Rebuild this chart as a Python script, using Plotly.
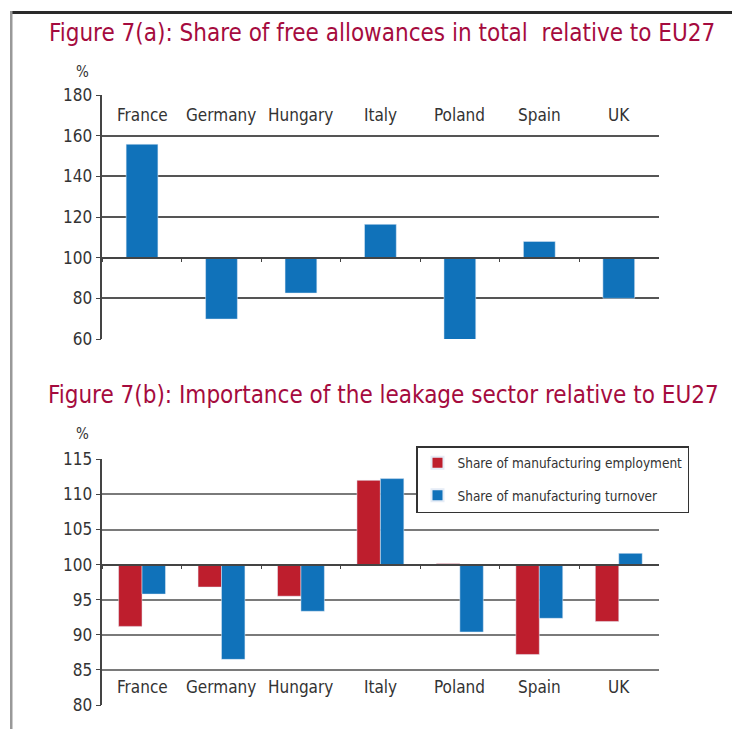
import plotly.graph_objects as go

countries = ["France", "Germany", "Hungary", "Italy", "Poland", "Spain", "UK"]
free_allowances = [155.8, 69.8, 82.6, 116.4, 59.7, 108.0, 80.0]
employment = [91.2, 96.8, 95.5, 112.0, 100.15, 87.2, 91.9]
turnover = [95.8, 86.5, 93.35, 112.25, 90.4, 92.35, 101.6]
baseline = 100

top_ticks = [60, 80, 100, 120, 140, 160, 180]
bot_ticks = [80, 85, 90, 95, 100, 105, 110, 115]

W, H = 740, 729
OFF = 8  # page body margin
FONT = "Liberation Sans Narrow, DejaVu Sans Condensed, Roboto, sans-serif"
TITLE_COLOR = "#A50B3E"
BLUE = "#1072BA"
RED = "#BE1E2D"
TXT = "#333333"

def py(px):
    return 1 - (px - OFF) / H

def pxx(px):
    return (px - OFF) / W

xdom = [pxx(102.3), pxx(658.5)]
top_dom = [py(339), py(95)]
bot_dom = [py(705), py(459.3)]
top_range = [60, 180]
bot_range = [80, 115]

top_pos = top_dom[0] + (baseline - top_range[0]) / (top_range[1] - top_range[0]) * (top_dom[1] - top_dom[0])
bot_pos = bot_dom[0] + (baseline - bot_range[0]) / (bot_range[1] - bot_range[0]) * (bot_dom[1] - bot_dom[0])

fig = go.Figure()

fig.add_trace(go.Bar(
    x=countries, y=[v - baseline for v in free_allowances], base=baseline,
    marker_color=BLUE, width=0.4, xaxis="x", yaxis="y", showlegend=False,
))
fig.add_trace(go.Bar(
    x=countries, y=[v - baseline for v in employment], base=baseline,
    marker_color=RED, name="Share of manufacturing employment",
    xaxis="x2", yaxis="y2", legendgroup="a",
))
fig.add_trace(go.Bar(
    x=countries, y=[v - baseline for v in turnover], base=baseline,
    marker_color=BLUE, name="Share of manufacturing turnover",
    xaxis="x2", yaxis="y2", legendgroup="b",
))

axis_common_y = dict(
    showline=True, linecolor="#444", linewidth=1.5,
    ticks="outside", ticklen=5, tickcolor="#444", tickwidth=1,
    showgrid=True, gridwidth=1.5,
    tickfont=dict(family=FONT, size=17, color=TXT),
    zeroline=False, fixedrange=True, automargin=False,
)
axis_common_x = dict(
    showline=True, linecolor="#444", linewidth=1.5,
    ticks="outside", ticklen=4, tickcolor="#444", tickson="boundaries",
    showticklabels=False, showgrid=False, anchor="free", domain=xdom,
    fixedrange=True, automargin=False,
)

fig.update_layout(
    width=W, height=H, autosize=False,
    margin=dict(l=0, r=0, t=0, b=0, pad=0),
    paper_bgcolor="white", plot_bgcolor="white",
    barmode="group", bargap=0.41, bargroupgap=0,
    font=dict(family=FONT, color=TXT),
    xaxis=dict(position=top_pos, **axis_common_x),
    yaxis=dict(domain=top_dom, range=top_range, tickvals=top_ticks, gridcolor="#555",
               anchor="x", **axis_common_y),
    xaxis2=dict(position=bot_pos, **axis_common_x),
    yaxis2=dict(domain=bot_dom, range=bot_range, tickvals=bot_ticks, gridcolor="#7a7a7a",
                anchor="x2", **axis_common_y),
    legend=dict(
        x=pxx(416), y=py(446), xanchor="left", yanchor="top",
        bordercolor="#333", borderwidth=1.5, bgcolor="white",
        font=dict(family=FONT, size=13.5, color=TXT),
        tracegroupgap=12, itemsizing="constant",
    ),
)

annotations = []
for c in countries:
    annotations.append(dict(x=c, y=170, xref="x", yref="y", text=c, showarrow=False,
                            font=dict(family=FONT, size=17, color=TXT)))
    annotations.append(dict(x=c, y=82.5, xref="x2", yref="y2", text=c, showarrow=False,
                            font=dict(family=FONT, size=17, color=TXT)))

annotations += [
    dict(x=pxx(47), y=py(33), xref="paper", yref="paper", xanchor="left", yanchor="middle",
         text="Figure 7(a): Share of free allowances in total  relative to EU27", showarrow=False,
         font=dict(family=FONT, size=24, color=TITLE_COLOR)),
    dict(x=pxx(46), y=py(395), xref="paper", yref="paper", xanchor="left", yanchor="middle",
         text="Figure 7(b): Importance of the leakage sector relative to EU27", showarrow=False,
         font=dict(family=FONT, size=24, color=TITLE_COLOR)),
    dict(x=pxx(82), y=py(72), xref="paper", yref="paper", xanchor="center", yanchor="middle",
         text="%", showarrow=False, font=dict(family=FONT, size=15, color=TXT)),
    dict(x=pxx(82), y=py(434), xref="paper", yref="paper", xanchor="center", yanchor="middle",
         text="%", showarrow=False, font=dict(family=FONT, size=15, color=TXT)),
]
fig.update_layout(annotations=annotations)

fig.update_layout(shapes=[
    dict(type="rect", xref="paper", yref="paper", x0=pxx(10), x1=1, y0=py(14), y1=py(11),
         fillcolor="#2a2a2a", line=dict(width=0), layer="above"),
    dict(type="rect", xref="paper", yref="paper", x0=pxx(10), x1=pxx(12.5), y0=0, y1=py(11),
         fillcolor="#999999", line=dict(width=0), layer="above"),
])

fig.write_html("out.html")
